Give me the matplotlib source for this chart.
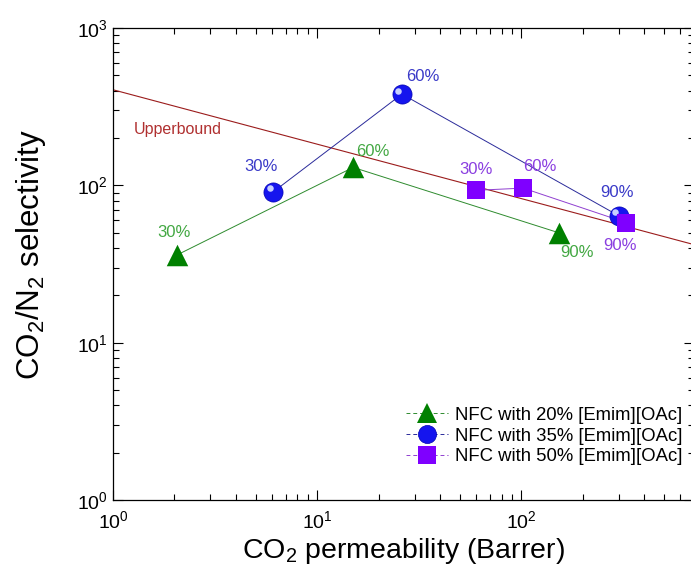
import numpy as np
import matplotlib
matplotlib.use("Agg")
import matplotlib.pyplot as plt
import matplotlib.transforms as mtransforms
from matplotlib.lines import Line2D

plt.rcParams["font.family"] = ["Liberation Sans", "DejaVu Sans"]
plt.rcParams["mathtext.fontset"] = "custom"
plt.rcParams["mathtext.rm"] = "Liberation Sans"
plt.rcParams["mathtext.it"] = "Liberation Sans"

# data
labels = ["30%", "60%", "90%"]
p20 = [2.05, 15.0, 152.0]
s20 = [36.0, 130.0, 50.0]
p35 = [6.1, 26.0, 300.0]
s35 = [91.0, 380.0, 64.0]
p50 = [60.0, 102.0, 325.0]
s50 = [93.0, 96.0, 58.0]
ub_p = [1.0, 700.0]
ub_s = [405.0, 42.0]

fig = plt.figure(figsize=(6.91, 5.76), dpi=100)
ax = fig.add_axes([113 / 691, 76 / 576, 581 / 691, 472 / 576])
ax.set_xscale("log"); ax.set_yscale("log")
ax.set_xlim(1, 700); ax.set_ylim(1, 1000)

ax.plot(ub_p, ub_s, color="#9b1c1c", lw=0.8, zorder=2)
ax.text(1.27, 228, "Upperbound", color="#b03030", fontsize=11.5, va="center")

ax.plot(p20, s20, color="#2e8b2e", lw=0.7, zorder=3)
ax.plot(p35, s35, color="#2a2a9a", lw=0.7, zorder=3)
ax.plot(p50, s50, color="#9040d0", lw=0.7, zorder=3)

ax.scatter(p20, s20, marker="^", s=240, color="#008000", zorder=4, linewidths=0)
ax.scatter(p35, s35, marker="o", s=190, color="#1515ee", edgecolors="#0000b0",
           linewidths=0.5, zorder=5)
hl = mtransforms.offset_copy(ax.transData, fig=fig, x=-2.5, y=2.5, units="points")
ax.scatter(p35, s35, marker="o", s=22, color="#c8d0ff", zorder=6, linewidths=0,
           transform=hl)
ax.scatter(p50, s50, marker="s", s=180, color="#7f00ff", zorder=7, linewidths=0)

# percentage labels
g_off = [(0.97, 1.4), (1.25, 1.27), (1.23, 0.75)]
b_off = [(0.87, 1.45), (1.27, 1.3), (0.98, 1.4)]
m_off = [(1.0, 1.35), (1.2, 1.37), (0.93, 0.72)]
for lab, x, y, (fx, fy) in zip(labels, p20, s20, g_off):
    ax.text(x * fx, y * fy, lab, color="#43a843", fontsize=12, ha="center", va="center")
for lab, x, y, (fx, fy) in zip(labels, p35, s35, b_off):
    ax.text(x * fx, y * fy, lab, color="#3a3ac8", fontsize=12, ha="center", va="center")
for lab, x, y, (fx, fy) in zip(labels, p50, s50, m_off):
    ax.text(x * fx, y * fy, lab, color="#8a3ee0", fontsize=12, ha="center", va="center")

ax.set_xlabel(r"CO$_2$ permeability (Barrer)", fontsize=20.5, labelpad=3)
ax.set_ylabel(r"CO$_2$/N$_2$ selectivity", fontsize=22.5)
ax.yaxis.set_label_coords(-0.112, 0.52)
ax.tick_params(which="both", direction="in", top=True, right=True, labelsize=14)
ax.tick_params(which="major", length=7, width=0.8)
ax.tick_params(which="minor", length=4, width=0.8)
ax.tick_params(axis="x", pad=7)
for sp in ax.spines.values():
    sp.set_linewidth(0.9)

handles = [
    Line2D([], [], color="#2e8b2e", lw=0.7, ls=(0, (4, 3)), marker="^", markersize=15,
           markerfacecolor="#008000", markeredgewidth=0),
    Line2D([], [], color="#2a2a9a", lw=0.7, ls=(0, (4, 3)), marker="o", markersize=13,
           markerfacecolor="#1515ee", markeredgecolor="#0000b0", markeredgewidth=0.5),
    Line2D([], [], color="#9040d0", lw=0.7, ls=(0, (4, 3)), marker="s", markersize=13,
           markerfacecolor="#7f00ff", markeredgewidth=0),
]
names = ["NFC with 20% [Emim][OAc]", "NFC with 35% [Emim][OAc]", "NFC with 50% [Emim][OAc]"]
ax.legend(handles, names, loc="lower right", bbox_to_anchor=(1.0, 0.05), frameon=False,
          fontsize=13.3, handlelength=2.3, labelspacing=0.2, handletextpad=0.4,
          borderaxespad=0.2)

fig.savefig("out.png", dpi=100)
